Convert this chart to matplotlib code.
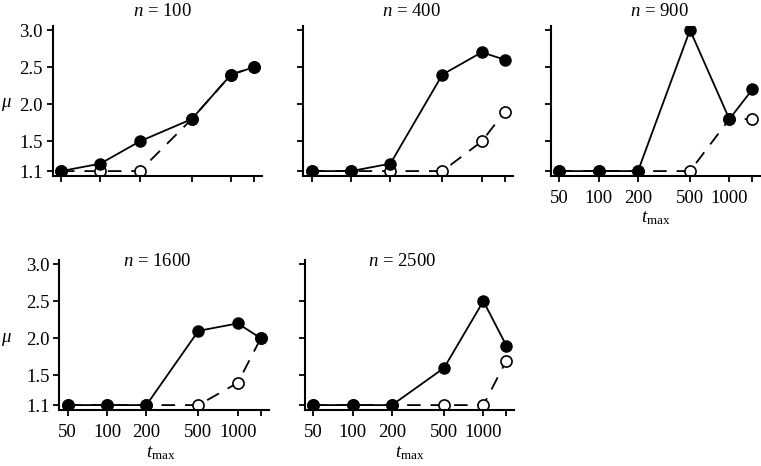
import matplotlib
matplotlib.use("Agg")
import matplotlib.pyplot as plt
import numpy as np

plt.rcParams['font.family'] = ['Liberation Serif', 'DejaVu Serif']
plt.rcParams['mathtext.fontset'] = 'custom'
plt.rcParams['mathtext.rm'] = 'Liberation Serif'
plt.rcParams['mathtext.it'] = 'Liberation Serif:italic'

# ---- data ----
t_max = [50, 100, 200, 500, 1000, 1500]
tick_labels = ['50', '100', '200', '500', '1000', '']
y_ticks = [1.1, 1.5, 2.0, 2.5, 3.0]
y_tick_labels = ['1.1', '1.5', '2.0', '2.5', '3.0']
panel_n = [100, 400, 900, 1600, 2500]

filled_100 = [1.1, 1.2, 1.5, 1.8, 2.4, 2.5]
open_100 = [1.1, 1.1, 1.1, 1.8, 2.4, 2.5]
filled_400 = [1.1, 1.1, 1.2, 2.4, 2.7, 2.6]
open_400 = [1.1, 1.1, 1.1, 1.1, 1.5, 1.9]
filled_900 = [1.1, 1.1, 1.1, 3.0, 1.8, 2.2]
open_900 = [1.1, 1.1, 1.1, 1.1, 1.8, 1.8]
filled_1600 = [1.1, 1.1, 1.1, 2.1, 2.2, 2.0]
open_1600 = [1.1, 1.1, 1.1, 1.1, 1.4, 2.0]
filled_2500 = [1.1, 1.1, 1.1, 1.6, 2.5, 1.9]
open_2500 = [1.1, 1.1, 1.1, 1.1, 1.1, 1.7]

filled = [filled_100, filled_400, filled_900, filled_1600, filled_2500]
opened = [open_100, open_400, open_900, open_1600, open_2500]

# ---- layout (pixels) ----
W, H = 761, 466
fig = plt.figure(figsize=(W / 100, H / 100), dpi=100)

xlim = (43.1, 1727)
ylim = (1.03, 3.05)
ax_w, ax_h = 209.6, 150
lefts = [52.5, 303.2, 550.8, 59.2, 304.8]
tops = [26.3, 26.3, 26.3, 260.3, 260.3]
show_xlab = [False, False, True, True, True]
show_ylab = [True, False, False, True, False]

fs = 13.5
lw = 1.3
for i in range(5):
    ax = fig.add_axes([lefts[i] / W, 1 - (tops[i] + ax_h) / H, ax_w / W, ax_h / H])
    ax.set_xscale('log')
    ax.set_xlim(*xlim)
    ax.set_ylim(*ylim)
    for s in ['top', 'right']:
        ax.spines[s].set_visible(False)
    for s in ['left', 'bottom']:
        ax.spines[s].set_linewidth(1.5)
    ax.plot(t_max, opened[i], color='black', lw=lw, ls=(0, (7.5, 5.5)),
            marker='o', ms=8, mfc='white', mec='black', mew=1.2, zorder=2)
    ax.plot(t_max, filled[i], color='black', lw=lw, ls='-',
            marker='o', ms=8, mfc='black', mec='black', zorder=3)
    ax.xaxis.set_minor_locator(matplotlib.ticker.NullLocator())
    ax.set_xticks(t_max)
    ax.set_xticklabels(tick_labels if show_xlab[i] else [''] * len(t_max))
    ax.set_yticks(y_ticks)
    ax.set_yticklabels(y_tick_labels if show_ylab[i] else [''] * len(y_ticks))
    ax.tick_params(axis='both', direction='out', length=4, width=1.3,
                   labelsize=fs, colors='black')
    ax.tick_params(axis='x', pad=6)
    ax.tick_params(axis='y', pad=3)

def ftext(x, y, s, **kw):
    fig.text(x / W, 1 - y / H, s, ha='center', va='center', fontsize=fs, **kw)

# titles
ftext(162.5, 12, r'$n$ = 100')
ftext(411.7, 12, r'$n$ = 400')
ftext(659.5, 12, r'$n$ = 900')
ftext(157, 261.7, r'$n$ = 1600')
ftext(402.5, 261.7, r'$n$ = 2500')

# y labels
ftext(6, 104, r'$\mu$')
ftext(6, 339, r'$\mu$')

# x labels
ftext(656, 218, r'$t_{\mathrm{max}}$')
ftext(161, 453, r'$t_{\mathrm{max}}$')
ftext(410, 453, r'$t_{\mathrm{max}}$')

fig.savefig('out.png', dpi=100)
